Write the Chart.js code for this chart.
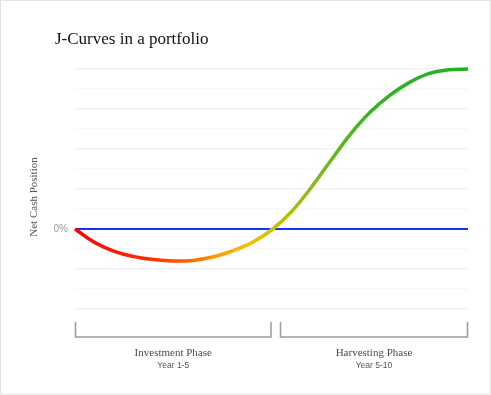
<!DOCTYPE html>
<html>
<head>
<meta charset="utf-8">
<script src="https://cdn.jsdelivr.net/npm/chart.js@4.4.1/dist/chart.umd.min.js"></script>
<style>
  html, body { margin: 0; padding: 0; background: #ffffff; }
  #wrap { width: 491px; height: 395px; position: relative; }
</style>
</head>
<body>
<div id="wrap"><canvas id="c" width="491" height="395"></canvas></div>
<script>
// ---- data ----
const chartTitle = 'J-Curves in a portfolio';
const yAxisLabel = 'Net Cash Position';
const years = [0, 0.5, 1, 1.5, 2, 2.5, 3, 3.5, 4, 4.5, 5, 5.5, 6, 6.5, 7, 7.5, 8, 8.5, 9, 9.5, 10];
const netCash = [0, -0.68, -1.12, -1.38, -1.53, -1.6, -1.57, -1.4, -1.1, -0.68, -0.05, 0.85, 2.05, 3.4, 4.72, 5.82, 6.67, 7.32, 7.77, 7.96, 8];
const zeroYears = [0, 10];
const zeroValues = [0, 0];
const phaseNames = ['Investment Phase', 'Harvesting Phase'];
const phaseYears = ['Year 1-5', 'Year 5-10'];
const phaseStart = [0, 5];
const phaseEnd = [5, 10];
const yMin = -4, yMax = 8, yStep = 1;

const curvePoints = years.map((x, i) => ({ x: x, y: netCash[i] }));
const zeroPoints = zeroYears.map((x, i) => ({ x: x, y: zeroValues[i] }));

function curveGradient(context) {
  const chart = context.chart;
  const area = chart.chartArea;
  if (!area) return '#ff0000';
  const g = chart.ctx.createLinearGradient(area.left, 0, area.right, 0);
  g.addColorStop(0.00, '#ff0000');
  g.addColorStop(0.18, '#ff2a00');
  g.addColorStop(0.28, '#ff6000');
  g.addColorStop(0.37, '#ffa000');
  g.addColorStop(0.44, '#f2c400');
  g.addColorStop(0.51, '#c6c00a');
  g.addColorStop(0.58, '#98bc14');
  g.addColorStop(0.68, '#58b61e');
  g.addColorStop(0.78, '#30b222');
  g.addColorStop(1.00, '#22b022');
  return g;
}

const decorPlugin = {
  id: 'decor',
  beforeDraw(chart) {
    const c = chart.ctx;
    c.save();
    c.fillStyle = '#ffffff';
    c.fillRect(0, 0, chart.width, chart.height);
    c.strokeStyle = '#e2e2e2';
    c.lineWidth = 1;
    c.strokeRect(0.5, 0.5, chart.width - 1, chart.height - 1.5);
    c.restore();
  },
  afterDraw(chart) {
    const c = chart.ctx;
    const xs = chart.scales.x;
    c.save();
    // title
    c.fillStyle = '#111111';
    c.font = '17px "Liberation Serif", "DejaVu Serif", serif';
    c.textAlign = 'left';
    c.textBaseline = 'alphabetic';
    c.fillText(chartTitle, 55, 44);
    // y axis label
    c.save();
    c.translate(34, 197);
    c.rotate(-Math.PI / 2);
    c.fillStyle = '#555555';
    c.font = '11px "Liberation Serif", "DejaVu Serif", serif';
    c.textAlign = 'center';
    c.textBaseline = 'middle';
    c.fillText(yAxisLabel, 0, 0);
    c.restore();
    // phase brackets
    c.strokeStyle = '#9a9a9a';
    c.lineWidth = 1.5;
    const top = 322, bot = 337;
    phaseNames.forEach((name, i) => {
      let x0 = xs.getPixelForValue(phaseStart[i]);
      let x1 = xs.getPixelForValue(phaseEnd[i]);
      x0 += (i > 0) ? 9 : 0.5;
      x1 -= 0.5;
      c.beginPath();
      c.moveTo(x0, top);
      c.lineTo(x0, bot);
      c.lineTo(x1, bot);
      c.lineTo(x1, top);
      c.stroke();
      const cx = (x0 + x1) / 2;
      c.textAlign = 'center';
      c.textBaseline = 'alphabetic';
      c.fillStyle = '#4a4a4a';
      c.font = '11px "Liberation Serif", "DejaVu Serif", serif';
      c.fillText(name, cx, 356);
      c.fillStyle = '#555555';
      c.font = '8.5px "Liberation Sans", "DejaVu Sans", sans-serif';
      c.fillText(phaseYears[i], cx, 368);
    });
    c.restore();
  }
};

new Chart(document.getElementById('c'), {
  type: 'line',
  data: {
    datasets: [
      {
        label: 'Net cash',
        data: curvePoints,
        borderColor: curveGradient,
        borderWidth: 3.5,
        pointRadius: 0,
        tension: 0.4,
        fill: false,
        order: 0,
        clip: 6
      },
      {
        label: 'Zero',
        data: zeroPoints,
        borderColor: '#0a36ff',
        borderWidth: 2,
        pointRadius: 0,
        fill: false,
        order: 1
      }
    ]
  },
  options: {
    responsive: false,
    animation: false,
    events: [],
    layout: { padding: { top: 69, right: 23, bottom: 86, left: 0 } },
    plugins: {
      legend: { display: false },
      tooltip: { enabled: false },
      title: { display: false }
    },
    scales: {
      x: {
        type: 'linear',
        min: 0,
        max: 10,
        display: false
      },
      y: {
        type: 'linear',
        min: yMin,
        max: yMax,
        afterFit(scale) { scale.width = 75; },
        border: { display: false },
        grid: {
          drawTicks: false,
          lineWidth: 1.5,
          color: (ctx) => (ctx.tick && Math.round(ctx.tick.value) % 2 === 0) ? '#f2f2f2' : '#f8f8f8'
        },
        ticks: {
          stepSize: yStep,
          padding: 7,
          color: '#999999',
          font: { family: '"Liberation Sans", "DejaVu Sans", sans-serif', size: 10 },
          callback: (v) => v === 0 ? '0%' : ''
        }
      }
    }
  },
  plugins: [decorPlugin]
});
</script>
</body>
</html>
